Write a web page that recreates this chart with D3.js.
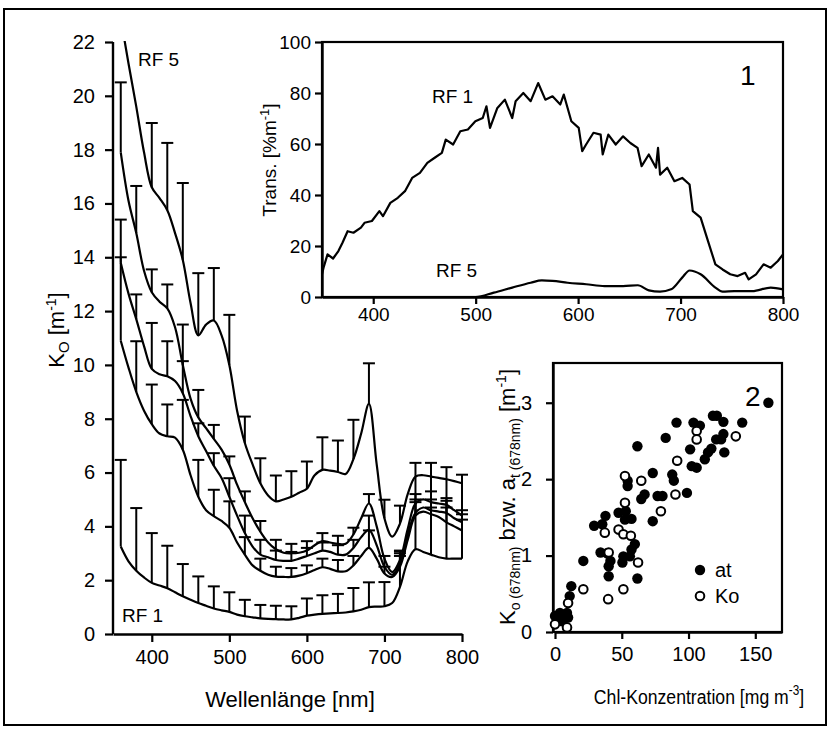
<!DOCTYPE html>
<html><head><meta charset="utf-8">
<script src="https://cdn.jsdelivr.net/npm/d3@7"></script>
<style>
body{margin:0;background:#fff;}
text{font-family:"Liberation Sans",Arial,sans-serif;fill:#000;}
</style></head><body>
<svg id="c" width="831" height="733"></svg>
<script>
// ---------- Main chart: attenuation spectra K0 ----------
const wl = d3.range(360, 801, 10);
const rf1 = [3.25,2.7,2.35,2.1,1.9,1.8,1.7,1.55,1.4,1.27,1.15,1.05,0.95,0.88,0.82,0.72,0.66,0.62,0.58,0.56,0.55,0.54,0.54,0.6,0.68,0.72,0.75,0.77,0.78,0.8,0.84,0.9,1.0,1.02,1.03,1.15,1.75,2.7,3.15,3.05,2.95,2.85,2.8,2.8,2.8];
const rf2 = [10.9,9.9,9.0,8.3,7.8,7.45,7.35,7.3,6.85,5.9,5.1,4.6,4.38,4.2,3.95,3.4,2.95,2.55,2.35,2.2,2.13,2.12,2.12,2.17,2.26,2.38,2.48,2.42,2.33,2.33,2.55,2.9,3.2,2.8,2.25,2.12,2.5,3.5,4.4,4.55,4.45,4.35,4.15,4.0,3.85];
const rf3 = [13.8,12.65,11.7,10.7,9.85,9.65,9.58,9.4,8.95,8.1,7.35,6.8,6.25,5.8,5.1,4.4,3.75,3.25,2.95,2.85,2.75,2.72,2.72,2.8,2.9,3.0,3.1,3.05,2.95,2.95,3.2,3.6,3.87,3.3,2.5,2.2,2.6,3.7,4.5,4.7,4.6,4.55,4.5,4.3,4.15];
const rf4 = [17.9,16.1,14.9,13.5,12.7,12.35,12.1,11.4,10.0,8.75,8.05,7.65,7.25,6.85,6.3,5.55,4.9,4.3,3.8,3.4,3.15,3.02,3.0,3.02,3.1,3.3,3.45,3.4,3.35,3.35,3.7,4.3,4.85,4.0,2.8,2.3,2.75,3.9,4.85,5.0,4.9,4.85,4.8,4.6,4.4];
const rf5 = [22.9,21.2,19.6,17.9,16.6,16.2,15.75,14.9,13.9,12.3,11.1,11.5,11.65,11.1,10.0,8.3,7.1,6.3,5.6,5.15,4.93,5.0,5.1,5.25,5.4,5.9,6.1,6.07,6.02,5.95,6.5,7.45,8.55,6.3,4.3,3.62,4.1,5.2,5.85,5.9,5.85,5.8,5.75,5.68,5.6];
// upper error bar ends, every 20 nm
const barWl = d3.range(360, 801, 20);
const rf1Top = [6.47,4.68,3.75,3.28,2.6,2.14,1.77,1.55,1.27,1.08,1.05,1.03,1.32,1.44,1.49,1.71,1.92,1.93,3.07,6.36,6.36,6.2,5.92];
const rf2Top = [14.0,10.88,9.27,8.53,8.7,6.47,5.36,4.93,3.6,2.8,2.5,2.45,2.55,2.8,2.75,2.9,3.85,2.5,2.9,4.9,4.7,4.7,4.25];
const rf3Top = [15.4,12.62,11.56,10.88,10.14,7.83,6.72,5.79,4.4,3.5,3.1,3.05,3.2,3.4,3.3,3.5,4.4,2.9,3.0,5.2,5.0,4.95,4.6];
const rf4Top = [20.5,16.65,13.55,12.99,11.5,9.07,7.77,6.6,5.3,4.2,3.5,3.35,3.45,3.75,3.65,3.95,5.2,null,3.1,5.0,5.3,5.05,4.45];
const rf5Top = [null,null,18.99,18.25,16.76,13.41,13.6,11.86,8.08,6.53,5.89,6.05,6.41,7.31,7.19,7.96,10.06,4.99,4.77,null,null,null,null];
const mainXTicks = [400,500,600,700,800];
const mainYTicks = d3.range(0, 23, 2);

// ---------- Inset 1: transmission ----------
const trWl1 = [350,351.5,355.4,360.8,366,370,375,380.7,388,391.5,398.7,406,409.5,416.7,424,431,438,445.6,452.8,460,467,470.8,478,485,492.4,499.7,506.9,510.5,514,521,528.5,535.7,539,546.5,553.7,561,568,575,582.6,586,593.4,600.6,604,607.8,615,622,624,629.5,636.7,643.9,651,658,662,669,676,678,680,687,694,701.6,708.8,712,719.6,726.8,734,741,748.5,755.7,763,766.5,773.7,781,788,795,800];
const trRf1 = [8.9,11.5,16.7,15.1,18,21.3,25.8,25.2,27.2,29.1,29.8,33.7,31.7,36.9,38.9,41.5,46.7,48.7,52.6,54.6,56.5,61.7,59.8,65,65.7,68.9,70.2,74.8,66.3,74,77.4,70.2,76.8,80,76.8,83.9,77.4,78.7,75.5,79.4,68.9,66.3,57.2,59.8,64.4,63.7,55.9,63.7,59.8,63,60.4,58.5,51.3,55.9,50.7,58.5,48,50.7,45.4,46.7,44.1,33.7,31.1,21.9,12.8,10.8,8.9,8.2,9.5,6.9,8.9,12.8,11.5,14.1,16.7];
const trWl5 = [350,400,450,500,517.7,535.7,553.7,564.6,575,589.8,607.8,625.9,643.9,658.3,669,680,690.8,701.6,708.8,719.6,734,741,752.4,770,788,800];
const trRf5 = [0,0,0,0,1.7,3.7,5.6,6.5,6.3,5.6,5.0,4.3,4.3,4.6,2.6,2.1,3.0,7.6,10.4,8.9,3.7,2.1,2.3,2.3,3.7,3.0];
const trXTicks = [400,500,600,700,800];
const trYTicks = [0,20,40,60,80,100];

// ---------- Inset 2: K0 / at at 678 nm vs chlorophyll ----------
const atChl = [0,3.7,7.3,9.8,1.7,5.6,9,12.2,11,21.2,29.3,35.4,37.8,34.1,39,40.2,41.5,40.2,47.6,50.5,51.2,52.4,54.4,54.4,56.1,57.3,59.8,61.7,61.7,64.6,67.1,73.2,73.2,76.8,80.5,82.9,87.8,89,91,98.8,101.2,102.4,106.1,103.7,108.5,112.2,114.6,117.1,118.3,121.2,120.7,124.4,126.1,126.1,126.8,140.2,159.8,53,57.3];
const atVal = [0.21,0.25,0.21,0.19,0.19,0.14,0.25,0.6,0.47,0.93,1.39,1.41,1.52,1.04,1.03,0.86,0.93,0.73,1.56,0.91,0.99,1.47,1.98,1.91,0.99,1.08,1.15,2.43,0.7,1.74,1.8,2.08,1.45,1.78,1.78,2.54,2.06,1.98,2.74,1.82,2.39,2.17,2.15,2.74,2.7,2.26,2.35,2.4,2.83,2.83,2.52,2.52,2.75,2.59,2.35,2.74,3.0,1.58,1.48];
const koChl = [0,9,9.8,21.2,37.3,40.2,39.8,47.6,51.2,51.2,52.4,52.4,56.8,62.2,64.6,79.3,90.2,91.5,106.1,106.1,135.4];
const koVal = [0.1,0.06,0.38,0.56,1.3,1.04,0.43,1.34,1.28,0.56,2.04,1.69,1.26,0.91,1.98,1.58,1.8,2.24,2.63,2.52,2.56];
const scXTicks = [0,50,100,150];
const scYTicks = [0,1,2,3];

// ================= drawing =================
const svg = d3.select("#c");
const SW = 2.2;

// outer frame
svg.append("rect").attr("x",4).attr("y",9).attr("width",822).attr("height",716)
  .attr("fill","none").attr("stroke","#000").attr("stroke-width",2);

function styleAxis(g, fs){
  g.selectAll("path.domain").attr("stroke-width",2.4);
  g.selectAll(".tick line").attr("stroke-width",2.2);
  g.selectAll(".tick text").style("font-size",fs+"px").style("font-family",'"Liberation Sans",Arial,sans-serif');
}

// ---- main chart
const mx = d3.scaleLinear().domain([350,800]).range([113,462]);
const my = d3.scaleLinear().domain([0,22]).range([634,42]);
svg.append("clipPath").attr("id","mclip").append("rect").attr("x",113).attr("y",41).attr("width",355).attr("height",600);

const gxa = svg.append("g").attr("transform","translate(0,634)")
  .call(d3.axisBottom(mx).tickValues(mainXTicks).tickSize(8).tickSizeOuter(0).tickPadding(8).tickFormat(d3.format("d")));
styleAxis(gxa,20);
const gya = svg.append("g").attr("transform","translate(113,0)")
  .call(d3.axisLeft(my).tickValues(mainYTicks).tickSize(8).tickSizeOuter(0).tickPadding(10).tickFormat(d3.format("d")));
styleAxis(gya,20);
gya.select("path.domain").attr("d","M0,634V42");

const lineGen = d3.line().x((d,i)=>mx(wl[i])).y(d=>my(d)).curve(d3.curveCatmullRom.alpha(0.5));
const series = [[rf1,rf1Top],[rf2,rf2Top],[rf3,rf3Top],[rf4,rf4Top],[rf5,rf5Top]];
const pg = svg.append("g").attr("clip-path","url(#mclip)");
series.forEach(([vals,tops])=>{
  pg.append("path").attr("d",lineGen(vals)).attr("fill","none").attr("stroke","#000").attr("stroke-width",SW);
  barWl.forEach((w,j)=>{
    const t = tops[j]; if(t==null) return;
    const v = vals[wl.indexOf(w)];
    const x = mx(w);
    pg.append("line").attr("x1",x).attr("x2",x).attr("y1",my(v)).attr("y2",my(t)).attr("stroke","#000").attr("stroke-width",2);
    pg.append("line").attr("x1",x-6).attr("x2",x+6).attr("y1",my(t)).attr("y2",my(t)).attr("stroke","#000").attr("stroke-width",2);
  });
});
svg.append("text").attr("x",138).attr("y",66).style("font-size","19px").text("RF 5");
svg.append("text").attr("x",122).attr("y",622).style("font-size","19px").text("RF 1");
svg.append("text").attr("x",290).attr("y",707).attr("text-anchor","middle").style("font-size","22px").text("Wellenlänge [nm]");
const yl = svg.append("text").attr("transform","translate(64,330) rotate(-90)").attr("text-anchor","middle").style("font-size","22px");
yl.append("tspan").text("K");
yl.append("tspan").attr("dy",5).style("font-size","15px").text("O");
yl.append("tspan").attr("dy",-5).text(" [m");
yl.append("tspan").attr("dy",-8).style("font-size","14px").text("-1");
yl.append("tspan").attr("dy",8).text("]");

// ---- inset 1
const tx = d3.scaleLinear().domain([350,800]).range([322,783]);
const ty = d3.scaleLinear().domain([0,100]).range([297,42]);
svg.append("rect").attr("x",322).attr("y",42).attr("width",461).attr("height",255).attr("fill","none").attr("stroke","#000").attr("stroke-width",2.2);
const tgx = svg.append("g").attr("transform","translate(0,297)")
  .call(d3.axisBottom(tx).tickValues(trXTicks).tickSize(7).tickSizeOuter(0).tickPadding(4).tickFormat(d3.format("d")));
styleAxis(tgx,19);
const tgy = svg.append("g").attr("transform","translate(322,0)")
  .call(d3.axisLeft(ty).tickValues(trYTicks).tickSize(7).tickSizeOuter(0).tickPadding(4).tickFormat(d3.format("d")));
styleAxis(tgy,19);
const tl1 = d3.line().x((d,i)=>tx(trWl1[i])).y(d=>ty(d));
const tl5 = d3.line().x((d,i)=>tx(trWl5[i])).y(d=>ty(d)).curve(d3.curveMonotoneX);
svg.append("path").attr("d",tl1(trRf1)).attr("fill","none").attr("stroke","#000").attr("stroke-width",2.2).attr("stroke-linejoin","round");
svg.append("path").attr("d",tl5(trRf5)).attr("fill","none").attr("stroke","#000").attr("stroke-width",2.2);
svg.append("text").attr("x",432).attr("y",103).style("font-size","19px").text("RF 1");
svg.append("text").attr("x",436).attr("y",277).style("font-size","19px").text("RF 5");
svg.append("text").attr("x",740).attr("y",85).style("font-size","28px").text("1");
const tyl = svg.append("text").attr("transform","translate(276,160) rotate(-90)").attr("text-anchor","middle").style("font-size","19px");
tyl.append("tspan").text("Trans. [%m");
tyl.append("tspan").attr("dy",-7).style("font-size","13px").text("-1");
tyl.append("tspan").attr("dy",7).text("]");

// ---- inset 2
const sx = d3.scaleLinear().domain([0,170]).range([555,782]);
const sy = d3.scaleLinear().domain([0,3.52]).range([632,363]);
svg.append("rect").attr("x",553).attr("y",363).attr("width",229).attr("height",269).attr("fill","none").attr("stroke","#000").attr("stroke-width",2.2);
const sgx = svg.append("g").attr("transform","translate(0,632)")
  .call(d3.axisBottom(sx).tickValues(scXTicks).tickSize(7).tickSizeOuter(0).tickPadding(8).tickFormat(d3.format("d")));
styleAxis(sgx,20);
const sgy = svg.append("g").attr("transform","translate(553,0)")
  .call(d3.axisLeft(sy).tickValues(scYTicks).tickSize(7).tickSizeOuter(0).tickPadding(14).tickFormat(d3.format("d")));
styleAxis(sgy,20);
svg.append("g").selectAll("circle").data(atChl).join("circle")
  .attr("cx",d=>sx(d)).attr("cy",(d,i)=>sy(atVal[i])).attr("r",5.2).attr("fill","#000");
svg.append("g").selectAll("circle").data(koChl).join("circle")
  .attr("cx",d=>sx(d)).attr("cy",(d,i)=>sy(koVal[i])).attr("r",4.3).attr("fill","#fff").attr("stroke","#000").attr("stroke-width",2);
svg.append("text").attr("x",745).attr("y",406).style("font-size","28px").text("2");
svg.append("circle").attr("cx",700).attr("cy",570).attr("r",5.2).attr("fill","#000");
svg.append("text").attr("x",715).attr("y",577).style("font-size","20px").text("at");
svg.append("circle").attr("cx",700).attr("cy",596).attr("r",4.3).attr("fill","#fff").attr("stroke","#000").attr("stroke-width",2);
svg.append("text").attr("x",715).attr("y",603).style("font-size","20px").text("Ko");
const sxl = svg.append("text").attr("transform","translate(699,704) scale(0.84,1)").attr("text-anchor","middle").style("font-size","21px");
sxl.append("tspan").text("Chl-Konzentration [mg m");
sxl.append("tspan").attr("dy",-9).style("font-size","14px").text("-3");
sxl.append("tspan").attr("dy",9).text("]");
const syl = svg.append("text").attr("transform","translate(515,497) rotate(-90)").attr("text-anchor","middle").style("font-size","22px");
syl.append("tspan").text("K");
syl.append("tspan").attr("dy",5).style("font-size","14px").text("o (678nm)");
syl.append("tspan").attr("dy",-5).text(" bzw. a");
syl.append("tspan").attr("dy",5).style("font-size","14px").text("t (678nm)");
syl.append("tspan").attr("dy",-5).text(" [m");
syl.append("tspan").attr("dy",-9).style("font-size","14px").text("-1");
syl.append("tspan").attr("dy",9).text("]");
</script>
</body></html>
